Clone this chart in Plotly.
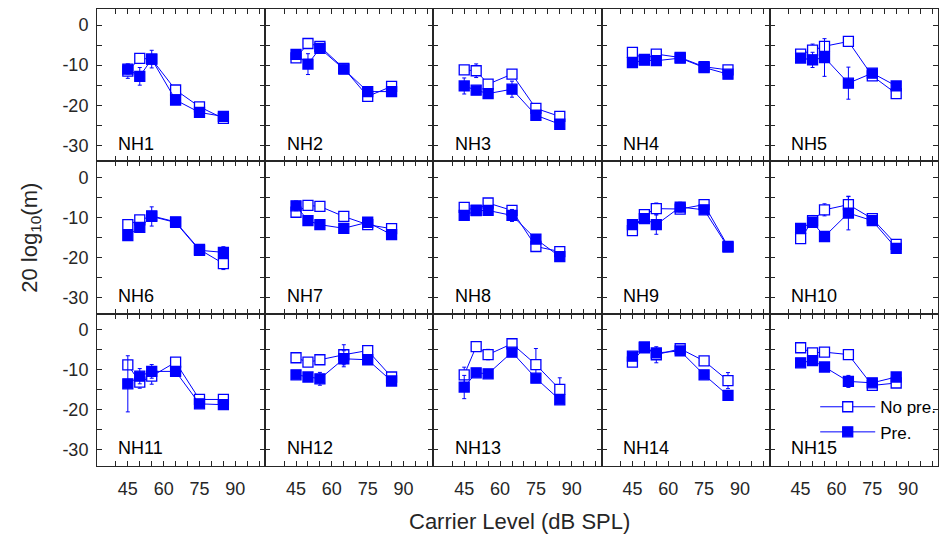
import plotly.graph_objects as go
from plotly.subplots import make_subplots

levels = [45, 50, 55, 65, 75, 85]
subjects = ["NH%d" % i for i in range(1, 16)]

no_pre = [
    [-11.5, -8.3, -8.5, -16.2, -20.4, -23.3],
    [-8.2, -4.6, -5.3, -10.8, -17.8, -15.3],
    [-11.2, -11.4, -14.75, -12.25, -20.8, -22.8],
    [-6.8, -8.6, -7.25, -8.1, -10.4, -11.2],
    [-7.25, -6.25, -5.3, -4.1, -12.7, -17.1],
    [-11.8, -10.6, -9.6, -11.1, -18.0, -21.5],
    [-8.7, -7.0, -7.25, -9.75, -11.8, -12.8],
    [-7.5, -8.2, -6.4, -8.25, -17.25, -18.5],
    [-13.3, -9.3, -7.8, -7.9, -6.8, -17.2],
    [-15.3, -10.8, -8.1, -6.8, -10.3, -16.7],
    [-8.75, -13.1, -11.6, -8.1, -17.4, -17.4],
    [-7.0, -8.1, -7.5, -6.25, -5.2, -11.8],
    [-11.25, -4.2, -6.2, -3.5, -8.7, -14.9],
    [-8.1, -4.3, -6.25, -4.75, -7.8, -12.7],
    [-4.5, -5.8, -5.6, -6.2, -13.9, -13.3],
]
pre = [
    [-11.0, -12.8, -8.5, -18.7, -21.8, -22.8],
    [-7.3, -9.75, -5.8, -11.0, -16.6, -16.6],
    [-15.2, -16.25, -17.1, -16.0, -22.5, -24.75],
    [-9.4, -8.75, -8.9, -8.25, -10.6, -12.25],
    [-8.25, -8.7, -8.1, -14.5, -12.0, -15.2],
    [-14.5, -12.5, -9.75, -11.25, -18.2, -18.7],
    [-7.1, -10.8, -11.8, -12.7, -11.2, -14.3],
    [-9.5, -8.3, -8.25, -9.5, -15.4, -19.75],
    [-11.8, -10.3, -11.8, -7.4, -8.1, -17.4],
    [-12.7, -11.2, -14.75, -8.9, -10.8, -17.7],
    [-13.5, -11.6, -10.4, -10.4, -18.5, -18.7],
    [-11.25, -11.8, -12.25, -7.25, -7.5, -12.8],
    [-14.3, -10.75, -11.0, -5.6, -12.1, -17.5],
    [-6.6, -4.5, -5.8, -5.3, -11.25, -16.4],
    [-8.25, -7.7, -9.3, -12.9, -13.25, -11.8],
]
no_pre_err = [
    [1.8, 0.8, 1.0, 0.8, 0.6, 0.6],
    [0.8, 0.6, 0.6, 0.6, 1.2, 0.6],
    [0.8, 1.7, 1.0, 0.6, 0.6, 0.6],
    [0.6, 0.6, 0.6, 0.6, 0.6, 0.6],
    [0.8, 1.5, 0.8, 0.6, 0.8, 0.6],
    [0.6, 0.9, 0.8, 0.6, 0.6, 1.5],
    [0.8, 0.6, 0.6, 0.6, 0.6, 0.6],
    [0.6, 0.6, 0.6, 0.6, 1.2, 1.0],
    [1.2, 0.6, 1.4, 0.6, 0.6, 0.6],
    [0.6, 1.3, 1.5, 2.0, 1.2, 0.8],
    [1.0, 1.5, 2.0, 0.6, 0.8, 0.8],
    [0.6, 0.6, 0.8, 2.5, 0.6, 0.8],
    [1.9, 0.6, 1.3, 0.6, 4.0, 2.9],
    [0.6, 0.6, 2.0, 0.6, 0.6, 2.0],
    [0.6, 0.6, 0.6, 0.6, 0.6, 0.6],
]
pre_err = [
    [1.2, 2.2, 2.2, 0.8, 0.6, 0.6],
    [0.8, 2.6, 0.8, 1.0, 0.8, 0.8],
    [2.0, 0.8, 1.2, 2.0, 0.6, 0.6],
    [0.6, 0.6, 1.0, 1.0, 0.6, 0.6],
    [0.9, 1.9, 4.7, 4.0, 0.8, 0.6],
    [0.6, 0.8, 2.4, 0.6, 0.6, 1.4],
    [1.2, 0.6, 0.6, 1.2, 0.6, 0.6],
    [0.6, 0.6, 0.6, 1.5, 0.6, 0.6],
    [0.6, 0.6, 2.4, 1.2, 0.6, 0.6],
    [0.6, 0.8, 1.2, 4.2, 1.0, 0.6],
    [7.0, 1.9, 1.7, 0.6, 0.6, 0.6],
    [0.6, 0.6, 1.6, 2.0, 0.6, 0.6],
    [2.9, 0.6, 0.6, 0.6, 0.6, 0.6],
    [0.6, 0.6, 0.8, 0.6, 0.6, 0.6],
    [0.6, 0.6, 0.6, 1.5, 1.0, 0.6],
]

x_tick_vals = list(range(40, 101, 5))
x_tick_labels = ["45", "60", "75", "90"]
y_tick_vals = list(range(-30, 1, 5))
y_tick_labels = ["0", "-10", "-20", "-30"]

FONT = "Liberation Sans, Arial, Helvetica, sans-serif"
AX = "#262626"
BLUE = "#0000ff"

fig = make_subplots(rows=3, cols=5, horizontal_spacing=0, vertical_spacing=0)

for i, name in enumerate(subjects):
    r, c = i // 5 + 1, i % 5 + 1
    fig.add_trace(go.Scatter(
        x=levels, y=no_pre[i], mode="lines+markers", name="No pre.",
        legendgroup="np", showlegend=(i == 0),
        line=dict(color=BLUE, width=1),
        marker=dict(symbol="square", size=10, color="white",
                    line=dict(color=BLUE, width=1.3)),
        error_y=dict(type="data", array=no_pre_err[i], color=BLUE,
                     thickness=1, width=2),
    ), row=r, col=c)
    fig.add_trace(go.Scatter(
        x=levels, y=pre[i], mode="lines+markers", name="Pre.",
        legendgroup="p", showlegend=(i == 0),
        line=dict(color=BLUE, width=1),
        marker=dict(symbol="square", size=10, color=BLUE,
                    line=dict(color=BLUE, width=1.3)),
        error_y=dict(type="data", array=pre_err[i], color=BLUE,
                     thickness=1, width=2),
    ), row=r, col=c)
    xt = [str(v) if str(v) in x_tick_labels else "" for v in x_tick_vals]
    yt = [str(v) if str(v) in y_tick_labels else "" for v in y_tick_vals]
    fig.update_xaxes(row=r, col=c, range=[32.1, 102.5], tickvals=x_tick_vals,
                     ticktext=xt, showticklabels=(r == 3),
                     ticks="inside", ticklen=5, tickwidth=1, tickcolor=AX,
                     showline=True, linecolor=AX, linewidth=1, mirror="ticks",
                     showgrid=False, zeroline=False, ticklabelstandoff=6,
                     tickfont=dict(family=FONT, size=18, color=AX))
    fig.update_yaxes(row=r, col=c, range=[-34, 4], tickvals=y_tick_vals,
                     ticktext=yt, showticklabels=(c == 1),
                     ticks="inside", ticklen=5, tickwidth=1, tickcolor=AX,
                     showline=True, linecolor=AX, linewidth=1, mirror="ticks",
                     showgrid=False, zeroline=False, ticklabelstandoff=4,
                     tickfont=dict(family=FONT, size=18, color=AX))
    sfx = "" if i == 0 else str(i + 1)
    fig.add_annotation(text=name, xref="x%s domain" % sfx, yref="y%s domain" % sfx,
                       x=0.115, y=0.117, xanchor="left", yanchor="middle",
                       showarrow=False, font=dict(family=FONT, size=18, color="black"))

fig.add_annotation(text="Carrier Level (dB SPL)", xref="paper", yref="paper",
                   x=0.5024, y=-0.1225, xanchor="center", yanchor="middle",
                   showarrow=False, font=dict(family=FONT, size=22, color=AX))
fig.add_annotation(text="20 log<sub>10</sub>(m)", xref="paper", yref="paper",
                   x=-0.0794, y=0.5, xanchor="center", yanchor="middle", textangle=-90,
                   showarrow=False, font=dict(family=FONT, size=22, color=AX))

fig.update_layout(
    width=942, height=536,
    margin=dict(l=97, r=1, t=9, b=70),
    paper_bgcolor="white", plot_bgcolor="white",
    font=dict(family=FONT, size=18, color=AX),
    legend=dict(x=0.854, y=0.168, xanchor="left", yanchor="top",
                bgcolor="rgba(0,0,0,0)", itemwidth=55, tracegroupgap=0,
                font=dict(family=FONT, size=17, color="black")),
)

fig.write_html("out.html", config={"displayModeBar": False},
               post_script="document.body.style.margin='0';document.body.style.overflow='hidden';")
